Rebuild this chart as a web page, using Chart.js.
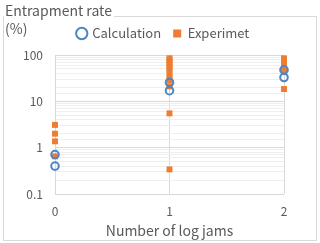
<!DOCTYPE html>
<html>
<head>
<meta charset="utf-8">
<script src="https://cdn.jsdelivr.net/npm/chart.js@4"></script>
<style>
  html, body { margin: 0; padding: 0; background: #fff; }
  #wrap { width: 320px; height: 243px; }
</style>
</head>
<body>
<div id="wrap"><canvas id="c" width="320" height="243"></canvas></div>
<script>
// log jam count vs entrapment rate (%)
const calcX = [0, 0, 1, 1, 2, 2];
const calcY = [0.71, 0.40, 25.5, 17, 47.7, 32.7];

const expX = [0, 0, 0, 0,
    1, 1, 1, 1, 1, 1, 1, 1, 1, 1, 1, 1,
    2, 2, 2, 2, 2, 2, 2];
const expY = [3.1, 2.0, 1.37, 0.65,
    85, 78, 70, 62, 55, 48, 40, 33, 28, 21, 5.5, 0.34,
    85, 75, 67, 58, 50, 44, 18.4];

const xTicks = [0, 1, 2];
const yTicks = [0.1, 1, 10, 100];

const FONT = '"Noto Sans CJK JP", "Noto Sans", sans-serif';
const TXT = '#595959';

function pts(xs, ys) {
    return xs.map((x, i) => ({ x: x, y: ys[i] }));
}

const frame = {
    id: 'frame',
    afterInit(chart) {
        // leave some room under the legend
        const lg = chart.legend;
        const fit = lg.fit;
        lg.fit = function () {
            fit.call(this);
            this.height += 5;
        };
    },
    beforeDraw(chart) {
        const ctx = chart.ctx;
        ctx.save();
        ctx.strokeStyle = '#d9d9d9';
        ctx.lineWidth = 1;
        ctx.strokeRect(3.5, 16.5, 313, 224);
        ctx.restore();
    },
    afterDraw(chart) {
        const ctx = chart.ctx;
        ctx.save();
        ctx.font = '14px ' + FONT;
        ctx.textBaseline = 'middle';
        const w = ctx.measureText('Entrapment rate').width;
        ctx.fillStyle = '#fff';
        ctx.fillRect(4, 4, w + 3, 15);
        ctx.fillStyle = TXT;
        ctx.fillText('Entrapment rate', 5, 11);
        ctx.fillText('(%)', 5, 29);
        ctx.restore();
    }
};

new Chart(document.getElementById('c'), {
    type: 'scatter',
    data: {
        datasets: [{
            label: 'Calculation',
            data: pts(calcX, calcY),
            pointStyle: 'circle',
            pointRadius: 3.8,
            borderWidth: 2,
            borderColor: '#4a86c8',
            backgroundColor: 'rgba(0,0,0,0)',
            clip: false
        }, {
            label: 'Experimet',
            data: pts(expX, expY),
            pointStyle: 'rect',
            pointRadius: 4.2,
            borderWidth: 0,
            borderColor: '#ed7d31',
            backgroundColor: '#ed7d31',
            clip: false
        }]
    },
    options: {
        responsive: false,
        animation: false,
        layout: { padding: { left: 10, right: 3, top: 15, bottom: 4 } },
        plugins: {
            legend: {
                display: true,
                position: 'top',
                labels: {
                    usePointStyle: true,
                    boxWidth: 8,
                    boxHeight: 8,
                    color: TXT,
                    font: { family: FONT, size: 13 },
                    padding: 12
                }
            },
            tooltip: { enabled: false }
        },
        scales: {
            x: {
                type: 'linear',
                min: 0,
                max: 2,
                afterBuildTicks(s) { s.ticks = xTicks.map(v => ({ value: v })); },
                afterFit(s) { s.height = 45; },
                grid: { color: '#d9d9d9', drawTicks: false },
                border: { display: false },
                ticks: { color: TXT, font: { family: FONT, size: 12 }, padding: 10 },
                title: {
                    display: true,
                    text: 'Number of log jams',
                    color: TXT,
                    font: { family: FONT, size: 14 },
                    padding: { top: 0, bottom: 0 }
                }
            },
            y: {
                type: 'logarithmic',
                min: 0.1,
                max: 100,
                afterFit(s) { s.width = 45; },
                grid: {
                    drawTicks: false,
                    color(c) {
                        const v = c.tick ? c.tick.value : 0;
                        return yTicks.some(t => Math.abs(t - v) < 1e-9) ? '#d9d9d9' : '#efefef';
                    }
                },
                border: { display: true, color: '#d9d9d9' },
                ticks: {
                    color: TXT,
                    font: { family: FONT, size: 12 },
                    padding: 12,
                    autoSkip: false,
                    callback(v) {
                        return yTicks.some(t => Math.abs(t - v) < 1e-9) ? String(v) : '';
                    }
                }
            },
            y2: {
                type: 'linear',
                position: 'right',
                display: true,
                afterFit(s) { s.width = 33; },
                grid: { display: false, drawTicks: false },
                border: { display: false },
                ticks: { display: false }
            }
        }
    },
    plugins: [frame]
});
</script>
</body>
</html>
